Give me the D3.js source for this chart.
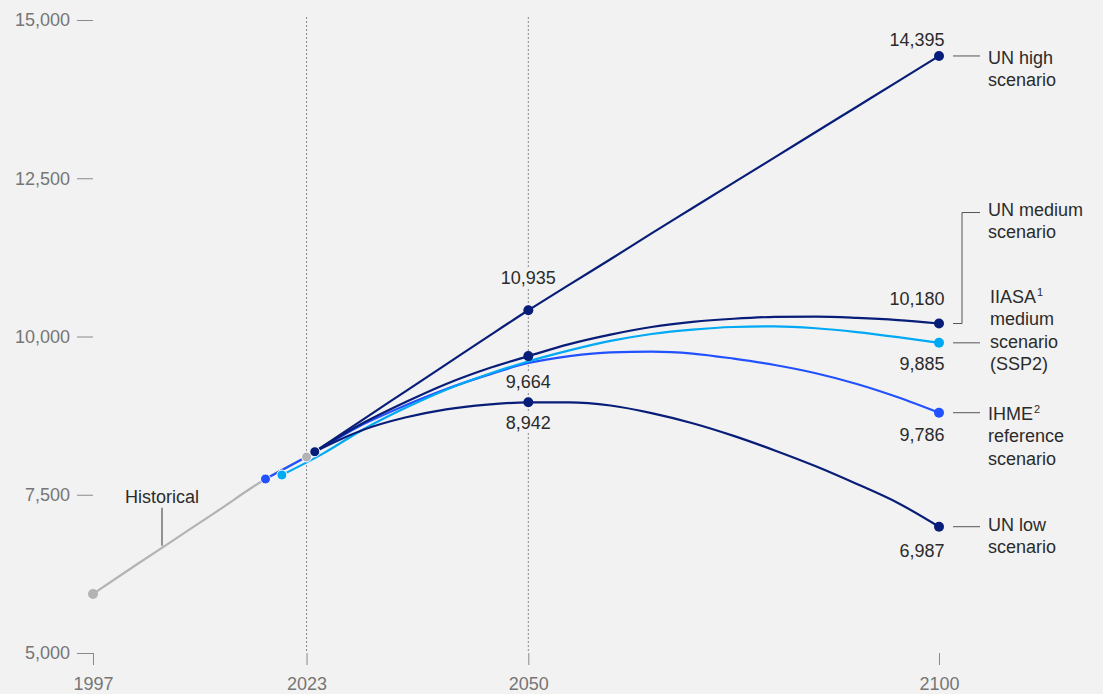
<!DOCTYPE html>
<html>
<head>
<meta charset="utf-8">
<script src="https://cdn.jsdelivr.net/npm/d3@7"></script>
<style>
  html, body { margin: 0; padding: 0; background: #f2f2f2; }
  svg { display: block; font-family: "Liberation Sans", Arial, sans-serif; }
</style>
</head>
<body>
<svg id="chart" width="1103" height="694"></svg>
<script>
// ---------- DATA ----------
const histYears  = [1997, 2002, 2007, 2012, 2018, 2023];
const histValues = [5932, 6370, 6800, 7230, 7749, 8097];

const unYears   = [2024, 2030, 2035, 2040, 2045, 2050, 2055, 2060, 2065, 2070, 2075, 2080, 2085, 2090, 2095, 2100];
const unHigh    = [8180, 8700, 9130, 9560, 9990, 10414, 10820, 11220, 11630, 12030, 12430, 12830, 13230, 13630, 14030, 14432];
const unMedium  = [8180, 8640, 8960, 9250, 9490, 9690, 9880, 10030, 10150, 10230, 10280, 10310, 10315, 10295, 10260, 10205];
const unLow     = [8180, 8530, 8720, 8850, 8925, 8960, 8960, 8910, 8790, 8630, 8430, 8200, 7950, 7670, 7370, 6995];

const iiasaYears  = [2020, 2025, 2030, 2035, 2040, 2045, 2050, 2055, 2060, 2065, 2070, 2075, 2080, 2085, 2090, 2095, 2100];
const iiasaValues = [7812, 8150, 8540, 8870, 9160, 9400, 9606, 9780, 9930, 10040, 10110, 10150, 10160, 10130, 10070, 9990, 9900];

const ihmeYears  = [2018, 2023, 2030, 2035, 2040, 2045, 2050, 2055, 2060, 2065, 2070, 2075, 2080, 2085, 2090, 2095, 2100];
const ihmeValues = [7749, 8100, 8620, 8910, 9170, 9390, 9581, 9690, 9750, 9760, 9730, 9650, 9550, 9420, 9250, 9040, 8796];

const yTicks = [5000, 7500, 10000, 12500, 15000];
const xTicks = [1997, 2023, 2050, 2100];
const refYears = [2023, 2050];

const labels2050 = ["10,935", "9,664", "8,942"];          // UN high, medium, low at 2050
const labels2100 = ["14,395", "10,180", "9,885", "9,786", "6,987"]; // UN high, medium, IIASA, IHME, UN low
const legendNames = [
  [["UN high"], ["scenario"]],
  [["UN medium"], ["scenario"]],
  [["IIASA", "1"], ["medium"], ["scenario"], ["(SSP2)"]],
  [["IHME", "2"], ["reference"], ["scenario"]],
  [["UN low"], ["scenario"]]
];
const historicalLabel = "Historical";

// ---------- STYLE ----------
const C_UN = "#081d78", C_IHME = "#2251ff", C_IIASA = "#00a9f4", C_HIST = "#b3b3b3";
const AXIS = "#767676", TEXT = "#2b2b2b", BG = "#f2f2f2";
const FS = "18px";

const svg = d3.select("#chart");
svg.append("rect").attr("width", 1103).attr("height", 694).attr("fill", BG);

const x = d3.scaleLinear().domain([1997, 2100]).range([93, 939]);
const y = d3.scaleLinear().domain([5000, 15000]).range([653, 20]);

// Reference dashed lines
svg.selectAll(".ref").data(refYears).join("line")
  .attr("x1", d => x(d)).attr("x2", d => x(d))
  .attr("y1", y(15000) - 3).attr("y2", y(5000))
  .attr("stroke", "#8a8a8a").attr("stroke-width", 1).attr("stroke-dasharray", "2,2");

// Y axis
const yAxis = svg.append("g").attr("transform", `translate(${x(1997)},0)`)
  .call(d3.axisLeft(y).tickValues(yTicks).tickSize(16).tickPadding(7).tickFormat(d3.format(",")));
yAxis.select(".domain").remove();
yAxis.selectAll("line").attr("stroke", "#8a8a8a");
yAxis.selectAll("text").attr("fill", AXIS).style("font-size", FS).style("font-family", "Liberation Sans, Arial, sans-serif");

// X axis
const xAxis = svg.append("g").attr("transform", `translate(0,${y(5000)})`)
  .call(d3.axisBottom(x).tickValues(xTicks).tickSize(12).tickPadding(12).tickFormat(d3.format("d")));
xAxis.select(".domain").remove();
xAxis.selectAll("line").attr("stroke", "#8a8a8a");
xAxis.selectAll("text").attr("fill", AXIS).style("font-size", FS).style("font-family", "Liberation Sans, Arial, sans-serif");

// Lines
const line = d3.line().x(d => x(d[0])).y(d => y(d[1])).curve(d3.curveMonotoneX);
const zip = (a, b) => a.map((v, i) => [v, b[i]]);

const series = [
  { pts: zip(histYears, histValues), color: C_HIST },
  { pts: zip(ihmeYears, ihmeValues), color: C_IHME },
  { pts: zip(iiasaYears, iiasaValues), color: C_IIASA },
  { pts: zip(unYears, unLow), color: C_UN },
  { pts: zip(unYears, unHigh), color: C_UN },
  { pts: zip(unYears, unMedium), color: C_UN }
];
svg.selectAll(".series").data(series).join("path")
  .attr("d", d => line(d.pts))
  .attr("fill", "none").attr("stroke", d => d.color)
  .attr("stroke-width", 2.2).attr("stroke-linejoin", "round").attr("stroke-linecap", "round");

// Historical leader + label
const hx = 2005.4;
const hv = d3.scaleLinear().domain(histYears).range(histValues)(hx);
svg.append("line").attr("x1", x(hx)).attr("x2", x(hx)).attr("y1", y(hv) - 2).attr("y2", y(hv) - 40)
  .attr("stroke", "#333").attr("stroke-width", 1);
svg.append("text").attr("x", x(hx)).attr("y", y(hv) - 45).attr("text-anchor", "middle")
  .attr("fill", TEXT).style("font-size", FS).text(historicalLabel);

// Dots
const last = a => a[a.length - 1];
const dots = [
  { yr: histYears[0], v: histValues[0], c: C_HIST, halo: false },
  { yr: ihmeYears[0], v: ihmeValues[0], c: C_IHME, halo: true },
  { yr: iiasaYears[0], v: iiasaValues[0], c: C_IIASA, halo: true },
  { yr: last(histYears), v: last(histValues), c: C_HIST, halo: true },
  { yr: unYears[0], v: unMedium[0], c: C_UN, halo: true },
  { yr: 2050, v: unHigh[unYears.indexOf(2050)], c: C_UN },
  { yr: 2050, v: unMedium[unYears.indexOf(2050)], c: C_UN },
  { yr: 2050, v: unLow[unYears.indexOf(2050)], c: C_UN },
  { yr: 2100, v: last(unHigh), c: C_UN },
  { yr: 2100, v: last(unMedium), c: C_UN },
  { yr: 2100, v: last(iiasaValues), c: C_IIASA },
  { yr: 2100, v: last(ihmeValues), c: C_IHME },
  { yr: 2100, v: last(unLow), c: C_UN }
];
svg.selectAll(".dot").data(dots).join("circle")
  .attr("cx", d => x(d.yr)).attr("cy", d => y(d.v)).attr("r", 5)
  .attr("fill", d => d.c)
  .attr("stroke", d => d.halo ? "#ffffff" : "none").attr("stroke-width", 1);

// 2050 labels (with background halo to hide dashed line)
const v2050 = [unHigh, unMedium, unLow].map(s => s[unYears.indexOf(2050)]);
const off2050 = [-26, 32, 27];
svg.selectAll(".l2050").data(labels2050).join("text")
  .attr("x", x(2050)).attr("y", (d, i) => y(v2050[i]) + off2050[i])
  .attr("text-anchor", "middle").attr("fill", TEXT).style("font-size", FS)
  .attr("stroke", BG).attr("stroke-width", 6).attr("paint-order", "stroke")
  .text(d => d);

// 2100 labels
const v2100 = [last(unHigh), last(unMedium), last(iiasaValues), last(ihmeValues), last(unLow)];
const off2100 = [-10, -19, 27, 28, 30];
svg.selectAll(".l2100").data(labels2100).join("text")
  .attr("x", x(2100) + 5.5).attr("y", (d, i) => y(v2100[i]) + off2100[i])
  .attr("text-anchor", "end").attr("fill", TEXT).style("font-size", FS)
  .text(d => d);

// Legend connectors
const lx0 = x(2100) + 14, lx1 = x(2100) + 41, tx = x(2100) + 49;
[0, 2, 3, 4].forEach(i => {
  svg.append("line").attr("x1", lx0).attr("x2", lx1)
    .attr("y1", y(v2100[i])).attr("y2", y(v2100[i]))
    .attr("stroke", "#555").attr("stroke-width", 1);
});
// UN medium bracket
const medTop = y(v2100[1]) - 111;
svg.append("path")
  .attr("d", `M${lx0},${y(v2100[1])} H${lx0 + 9} V${medTop} H${lx1}`)
  .attr("fill", "none").attr("stroke", "#555").attr("stroke-width", 1);

// Legend texts
const legendAnchor = [y(v2100[0]), medTop, y(v2100[2]), y(v2100[3]), y(v2100[4])];
const legendOff = [8, 3.5, -40, 7, 4];
const legendX = [tx, tx, tx + 2, tx, tx];
legendNames.forEach((lines, i) => {
  lines.forEach((parts, j) => {
    const t = svg.append("text").attr("x", legendX[i])
      .attr("y", legendAnchor[i] + legendOff[i] + j * 22.4)
      .attr("fill", TEXT).style("font-size", FS);
    t.append("tspan").text(parts[0]);
    if (parts[1]) {
      t.append("tspan").attr("dx", 1).attr("dy", -7).style("font-size", "11px").text(parts[1]);
    }
  });
});
</script>
</body>
</html>
